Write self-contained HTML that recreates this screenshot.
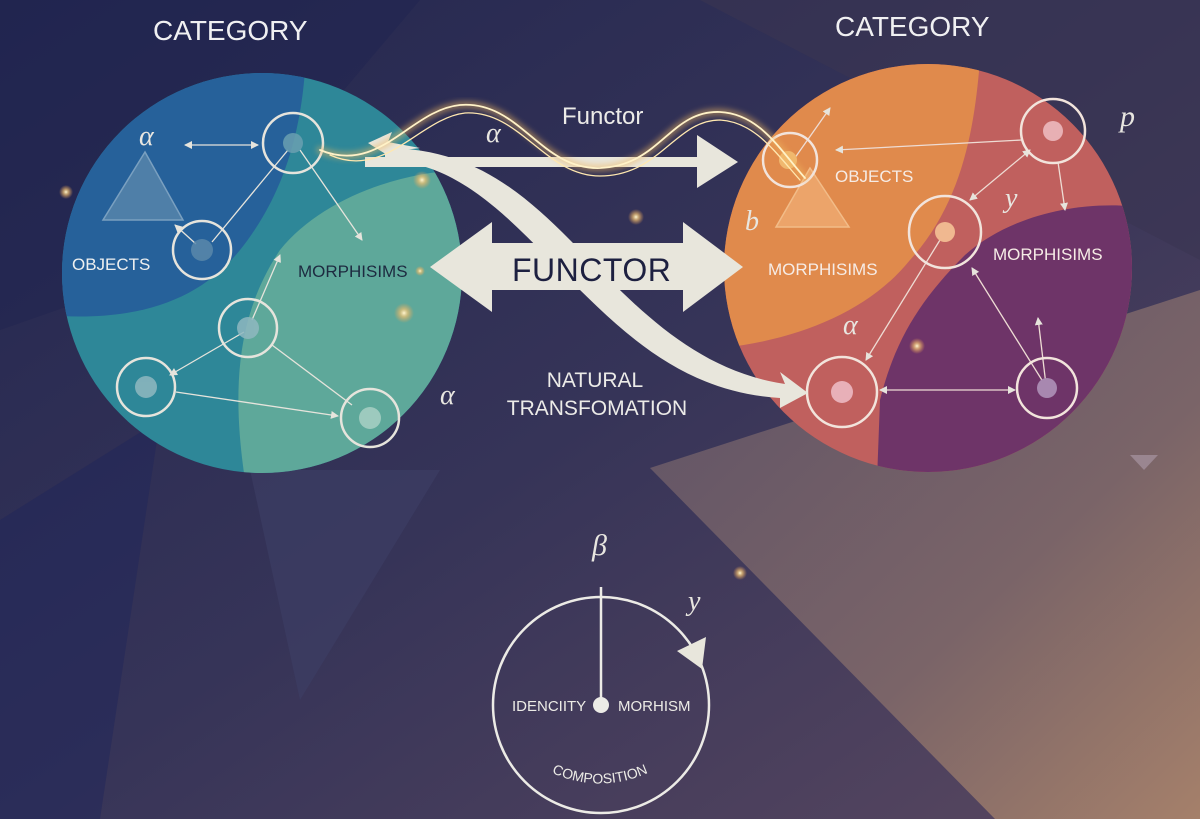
<!DOCTYPE html>
<html><head><meta charset="utf-8"><style>
html,body{margin:0;padding:0;width:1200px;height:819px;overflow:hidden;background:#2a2c55}
svg{display:block}
text{font-family:"Liberation Sans",sans-serif}
.g{font-family:"Liberation Serif",serif;font-style:italic;fill:#e8e6e0}
</style></head><body>
<svg width="1200" height="819" viewBox="0 0 1200 819" xmlns="http://www.w3.org/2000/svg">
<defs>
<linearGradient id="bg" x1="0" y1="0" x2="1" y2="1">
<stop offset="0" stop-color="#22264f"/><stop offset="0.5" stop-color="#363458"/><stop offset="1" stop-color="#5a4860"/>
</linearGradient>
<linearGradient id="br" x1="0" y1="0" x2="1" y2="1">
<stop offset="0" stop-color="#5e5266"/><stop offset="0.6" stop-color="#7a6468"/><stop offset="1" stop-color="#a5806a"/>
</linearGradient>
<radialGradient id="glow"><stop offset="0" stop-color="#fff6d0"/><stop offset="0.4" stop-color="#f0c070" stop-opacity="0.7"/><stop offset="1" stop-color="#f0a050" stop-opacity="0"/></radialGradient>
<clipPath id="cl"><circle cx="262" cy="273" r="200"/></clipPath>
<clipPath id="cr"><circle cx="928" cy="268" r="204"/></clipPath>
<marker id="ah" markerWidth="8" markerHeight="8" refX="7" refY="4" orient="auto" markerUnits="userSpaceOnUse"><path d="M0,0 L8,4 L0,8z" fill="#e6e4dc"/></marker>
<marker id="as" markerWidth="8" markerHeight="8" refX="1" refY="4" orient="auto" markerUnits="userSpaceOnUse"><path d="M8,0 L0,4 L8,8z" fill="#e6e4dc"/></marker>
<filter id="bl"><feGaussianBlur stdDeviation="3"/></filter>
</defs>
<rect width="1200" height="819" fill="url(#bg)"/>
<polygon points="0,0 420,0 200,260 0,330" fill="#1f2450" opacity="0.5"/>
<polygon points="700,0 1200,0 1200,260" fill="#3a3552" opacity="0.6"/>
<polygon points="250,470 440,470 300,700" fill="#3e4066" opacity="0.6"/>
<polygon points="0,520 160,420 100,819 0,819" fill="#20265a" opacity="0.5"/>
<polygon points="650,468 1200,290 1200,819 995,819" fill="url(#br)"/>
<polygon points="1130,455 1158,455 1144,470" fill="#9a8690"/>

<!-- Left circle -->
<g clip-path="url(#cl)">
<rect x="60" y="70" width="410" height="410" fill="#2e8798"/>
<path d="M60,70 L305,70 C300,140 280,200 240,250 C200,300 140,320 60,316 Z" fill="#26619a"/>
<path d="M470,170 C400,170 320,200 280,250 C240,310 230,380 245,480 L470,480 Z" fill="#5ea89a"/>
</g>
<!-- left edges -->
<g stroke="#e6e4dc" stroke-width="1.3" fill="none">
<line x1="185" y1="145" x2="258" y2="145" marker-start="url(#as)" marker-end="url(#ah)"/>
<line x1="288" y1="150" x2="212" y2="242"/>
<line x1="300" y1="150" x2="362" y2="240" marker-end="url(#ah)"/>
<line x1="196" y1="244" x2="175" y2="225" marker-end="url(#ah)"/>
<line x1="252" y1="320" x2="280" y2="255" marker-end="url(#ah)"/>
<line x1="244" y1="332" x2="170" y2="375" marker-end="url(#ah)"/>
<line x1="176" y1="392" x2="338" y2="416" marker-end="url(#ah)"/>
<line x1="272" y1="345" x2="352" y2="405"/>
</g>
<polygon points="145,152 103,220 183,220" fill="#4f7fa8" stroke="#7aa0c0" stroke-width="1.5"/>
<g stroke="#e6e4dc" stroke-width="2.5" fill="none">
<circle cx="293" cy="143" r="30"/><circle cx="202" cy="250" r="29"/><circle cx="248" cy="328" r="29"/><circle cx="146" cy="387" r="29"/><circle cx="370" cy="418" r="29"/>
</g>
<g fill="#8fb8c0" opacity="0.85">
<circle cx="293" cy="143" r="10" fill="#6aa0b0"/><circle cx="202" cy="250" r="11" fill="#5a88aa"/><circle cx="248" cy="328" r="11"/><circle cx="146" cy="387" r="11"/><circle cx="370" cy="418" r="11" fill="#a8d0c4"/>
</g>
<text x="72" y="270" font-size="17" fill="#eef0f0">OBJECTS</text>
<text x="298" y="277" font-size="17" fill="#1d2a40">MORPHISIMS</text>
<text x="139" y="145" font-size="28" class="g">α</text>
<text x="440" y="404" font-size="28" class="g">α</text>

<!-- Right circle -->
<g clip-path="url(#cr)">
<rect x="720" y="60" width="420" height="420" fill="#c0605e"/>
<path d="M720,60 L980,60 C975,120 965,200 910,260 C870,310 800,340 720,348 Z" fill="#e08a4c"/>
<path d="M1140,207 C1080,200 1010,215 965,255 C920,300 895,340 880,400 L877,480 L1140,480 Z" fill="#6e3468"/>
</g>
<g stroke="#eedcd4" stroke-width="1.3" fill="none">
<line x1="1022" y1="140" x2="836" y2="150" marker-end="url(#ah)"/>
<line x1="792" y1="162" x2="830" y2="108" marker-end="url(#ah)"/>
<line x1="1030" y1="150" x2="970" y2="200" marker-start="url(#as)" marker-end="url(#ah)"/>
<line x1="1058" y1="162" x2="1065" y2="210" marker-end="url(#ah)"/>
<line x1="940" y1="240" x2="866" y2="360" marker-end="url(#ah)"/>
<line x1="880" y1="390" x2="1015" y2="390" marker-start="url(#as)" marker-end="url(#ah)"/>
<line x1="1045" y1="385" x2="972" y2="268" marker-end="url(#ah)"/>
<line x1="1046" y1="385" x2="1038" y2="318" marker-end="url(#ah)"/>
</g>
<polygon points="810,168 776,227 849,227" fill="#eca46a" stroke="#f2bc88" stroke-width="1.5"/>
<g stroke="#f2e4dc" stroke-width="2.5" fill="none">
<circle cx="790" cy="160" r="27"/><circle cx="1053" cy="131" r="32"/><circle cx="945" cy="232" r="36"/><circle cx="842" cy="392" r="35"/><circle cx="1047" cy="388" r="30"/>
</g>
<circle cx="788" cy="160" r="9" fill="#f0b870"/><circle cx="1053" cy="131" r="10" fill="#e8b0b4"/><circle cx="945" cy="232" r="10" fill="#f0b890"/><circle cx="842" cy="392" r="11" fill="#e8b0b8"/><circle cx="1047" cy="388" r="10" fill="#a888b0"/>
<text x="835" y="182" font-size="17" fill="#f6ece6">OBJECTS</text>
<text x="768" y="275" font-size="17" fill="#f6ece6">MORPHISIMS</text>
<text x="993" y="260" font-size="17" fill="#f6ece6">MORPHISIMS</text>
<text x="745" y="230" font-size="28" class="g">b</text>
<text x="1005" y="207" font-size="28" class="g">y</text>
<text x="843" y="334" font-size="28" class="g">α</text>
<text x="1120" y="126" font-size="30" class="g">p</text>

<!-- titles -->
<text x="153" y="40" font-size="28" fill="#f0f0f2">CATEGORY</text>
<text x="835" y="36" font-size="28" fill="#f0f0f2">CATEGORY</text>

<!-- arrows -->
<g fill="#e8e6dc">
<path d="M365,157 L697,157 L697,135 L738,162 L697,188 L697,167 L365,167 Z"/>
<path d="M430,267 L492,222 L492,243 L683,243 L683,222 L743,267 L683,312 L683,290 L492,290 L492,312 Z"/>
<path d="M385,148 C470,148 520,190 570,240 C630,300 690,370 785,384 L780,372 L808,393 L780,408 L780,398 C680,392 620,330 560,270 C510,220 460,162 385,160 Z"/>
<path d="M368,143 L392,132 L388,142 L420,148 L388,152 L392,158 Z"/>
</g>
<!-- glow wave -->
<g fill="none" stroke-linecap="round">
<path d="M320,150 C380,175 410,110 460,105 C520,100 540,170 600,168 C660,166 670,110 720,112 C760,114 780,150 805,178" stroke="#f0b860" stroke-width="7" opacity="0.5" filter="url(#bl)"/>
<path d="M320,150 C380,175 410,110 460,105 C520,100 540,170 600,168 C660,166 670,110 720,112 C760,114 780,150 805,178" stroke="#fff2c8" stroke-width="1.8"/>
<path d="M330,155 C385,180 420,118 465,113 C520,110 545,176 600,176 C660,176 675,120 720,120 C755,122 775,152 800,180" stroke="#ffe8b0" stroke-width="1.3"/>
</g>
<text x="512" y="281" font-size="32" fill="#1d2040" letter-spacing="0.5">FUNCTOR</text>
<text x="562" y="124" font-size="24" fill="#ecebe8">Functor</text>
<text x="486" y="142" font-size="28" class="g">α</text>
<text x="595" y="387" font-size="21" fill="#ecebe8" text-anchor="middle">NATURAL</text>
<text x="597" y="415" font-size="21" fill="#ecebe8" text-anchor="middle">TRANSFOMATION</text>

<!-- sparkles -->
<g fill="url(#glow)">
<circle cx="66" cy="192" r="7"/><circle cx="422" cy="180" r="9"/><circle cx="404" cy="313" r="10"/><circle cx="636" cy="217" r="8"/><circle cx="740" cy="573" r="7"/><circle cx="917" cy="346" r="8"/><circle cx="420" cy="271" r="5"/>
</g>

<!-- clock -->
<circle cx="601" cy="705" r="108" fill="none" stroke="#ecebe6" stroke-width="2.5"/>
<line x1="601" y1="587" x2="601" y2="705" stroke="#ecebe6" stroke-width="2.5"/>
<circle cx="601" cy="705" r="8" fill="#ecebe6"/>
<polygon points="677,651 706,637 702,669" fill="#e8e6dc"/>
<text x="512" y="711" font-size="15" fill="#ecebe6">IDENCIITY</text>
<text x="618" y="711" font-size="15" fill="#ecebe6">MORHISM</text>
<text x="592" y="555" font-size="30" class="g">β</text>
<text x="688" y="610" font-size="28" class="g">y</text>
<path id="cp" d="M540,767 Q600,800 660,767" fill="none"/>
<text font-size="14" fill="#ecebe6"><textPath href="#cp" startOffset="50%" text-anchor="middle">COMPOSITION</textPath></text>
</svg>
</body></html>
